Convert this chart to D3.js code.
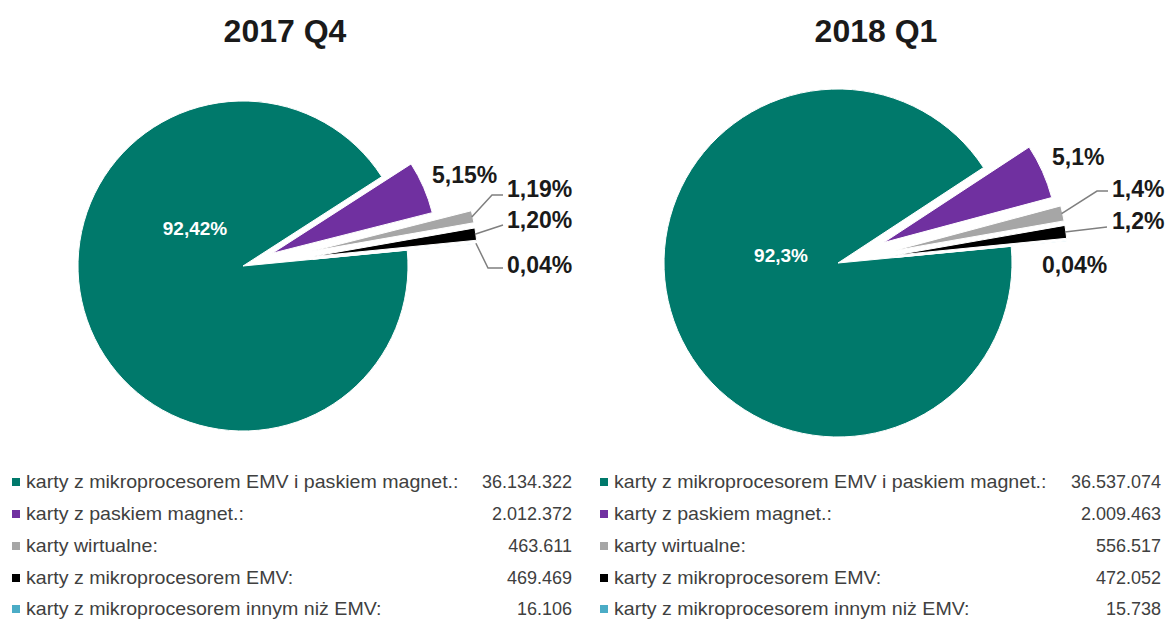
<!DOCTYPE html>
<html><head><meta charset="utf-8">
<script src="https://cdn.jsdelivr.net/npm/d3@7"></script>
<style>body{margin:0;background:#fff;} svg{display:block;font-family:"Liberation Sans",Arial,sans-serif;}</style>
</head><body><svg id="c" width="1172" height="619"></svg>
<script>
// ---- data ----
const categories = [
  "karty z mikroprocesorem EMV i paskiem magnet.:",
  "karty z paskiem magnet.:",
  "karty wirtualne:",
  "karty z mikroprocesorem EMV:",
  "karty z mikroprocesorem innym niż EMV:"
];
const periods = ["2017 Q4", "2018 Q1"];
const values2017 = [36134322, 2012372, 463611, 469469, 16106];
const values2018 = [36537074, 2009463, 556517, 472052, 15738];
const valueText2017 = ["36.134.322", "2.012.372", "463.611", "469.469", "16.106"];
const valueText2018 = ["36.537.074", "2.009.463", "556.517", "472.052", "15.738"];
const pctText2017 = ["92,42%", "5,15%", "1,19%", "1,20%", "0,04%"];
const pctText2018 = ["92,3%", "5,1%", "1,4%", "1,2%", "0,04%"];
const colors = ["#00796b", "#7030a0", "#a6a6a6", "#000000", "#4bacc6"];

// ---- layout ----
const charts = [
  { title: periods[0], values: values2017, vtext: valueText2017, pct: pctText2017,
    cx: 243, cy: 266, r: 165, explode: [0, 32, 70, 70, 70], titleX: 285,
    legX: 12, legValX: 572,
    lbl: [ {x:195, y:235, anchor:"middle", white:true},
           {x:432, y:183},
           {x:507, y:197, line:[[492,195],[503,195]]},
           {x:507, y:228, line:[[503,225]]},
           {x:507, y:273, line:[[488,268],[503,268]]} ] },
  { title: periods[1], values: values2018, vtext: valueText2018, pct: pctText2018,
    cx: 838, cy: 263, r: 174, explode: [0, 50, 56, 56, 56], titleX: 876,
    legX: 600, legValX: 1161,
    lbl: [ {x:781, y:262, anchor:"middle", white:true},
           {x:1052, y:165},
           {x:1112, y:197, line:[[1097,191],[1108,191]]},
           {x:1112, y:229, line:[[1107,227]]},
           {x:1042, y:273} ] }
];
const startDeg = 84.5;
const legendRowsY = [482, 514, 546, 578, 609];

const svg = d3.select("#c");
svg.append("rect").attr("width",1172).attr("height",619).attr("fill","#fff");

charts.forEach(ch => {
  const g = svg.append("g");
  g.append("text").attr("x", ch.titleX).attr("y", 42).attr("text-anchor","middle")
    .attr("font-size", 32).attr("font-weight","bold").attr("fill","#1a1a1a").text(ch.title);

  const a0 = startDeg * Math.PI / 180;
  const pie = d3.pie().sort(null).startAngle(a0).endAngle(a0 + 2*Math.PI);
  const arcs = pie(ch.values);
  const arc = d3.arc().innerRadius(0).outerRadius(ch.r);
  const off = (d, i) => {
    const m = (d.startAngle + d.endAngle) / 2;
    return [Math.sin(m) * ch.explode[i], -Math.cos(m) * ch.explode[i]];
  };
  const pg = g.append("g").attr("transform", `translate(${ch.cx},${ch.cy})`);
  pg.selectAll("path").data(arcs).join("path")
    .attr("transform", (d, i) => { const o = off(d, i); return `translate(${o[0]},${o[1]})`; })
    .attr("d", arc).attr("fill", (d, i) => colors[i])
    .attr("stroke", "#fff").attr("stroke-width", 1).attr("stroke-linejoin","round");

  // leader lines
  arcs.forEach((d, i) => {
    const L = ch.lbl[i];
    if (!L.line) return;
    const o = off(d, i);
    const m = (d.startAngle + d.endAngle) / 2;
    const sx = ch.cx + o[0] + Math.sin(m) * (ch.r - 1);
    const sy = ch.cy + o[1] - Math.cos(m) * (ch.r - 1);
    const pts = [[sx, sy]].concat(L.line);
    g.append("path").attr("d", d3.line()(pts)).attr("fill","none")
      .attr("stroke","#7f7f7f").attr("stroke-width",1.5);
  });

  // pct labels
  ch.pct.forEach((t, i) => {
    const L = ch.lbl[i];
    g.append("text").attr("x", L.x).attr("y", L.y)
      .attr("text-anchor", L.anchor || "start")
      .attr("font-size", L.white ? 19 : 23).attr("font-weight", "bold")
      .attr("fill", L.white ? "#fff" : "#1a1a1a").text(t);
  });

  // legend
  categories.forEach((c, i) => {
    const y = legendRowsY[i];
    g.append("rect").attr("x", ch.legX).attr("y", y - 4).attr("width", 8).attr("height", 8).attr("fill", colors[i]);
    g.append("text").attr("transform", `translate(${ch.legX + 14},${y + 6}) scale(1.09,1)`)
      .attr("font-size", 18).attr("fill","#404040").text(c);
    g.append("text").attr("x", ch.legValX).attr("y", y + 6).attr("font-size", 18)
      .attr("text-anchor","end").attr("fill","#404040").text(ch.vtext[i]);
  });
});
</script></body></html>
